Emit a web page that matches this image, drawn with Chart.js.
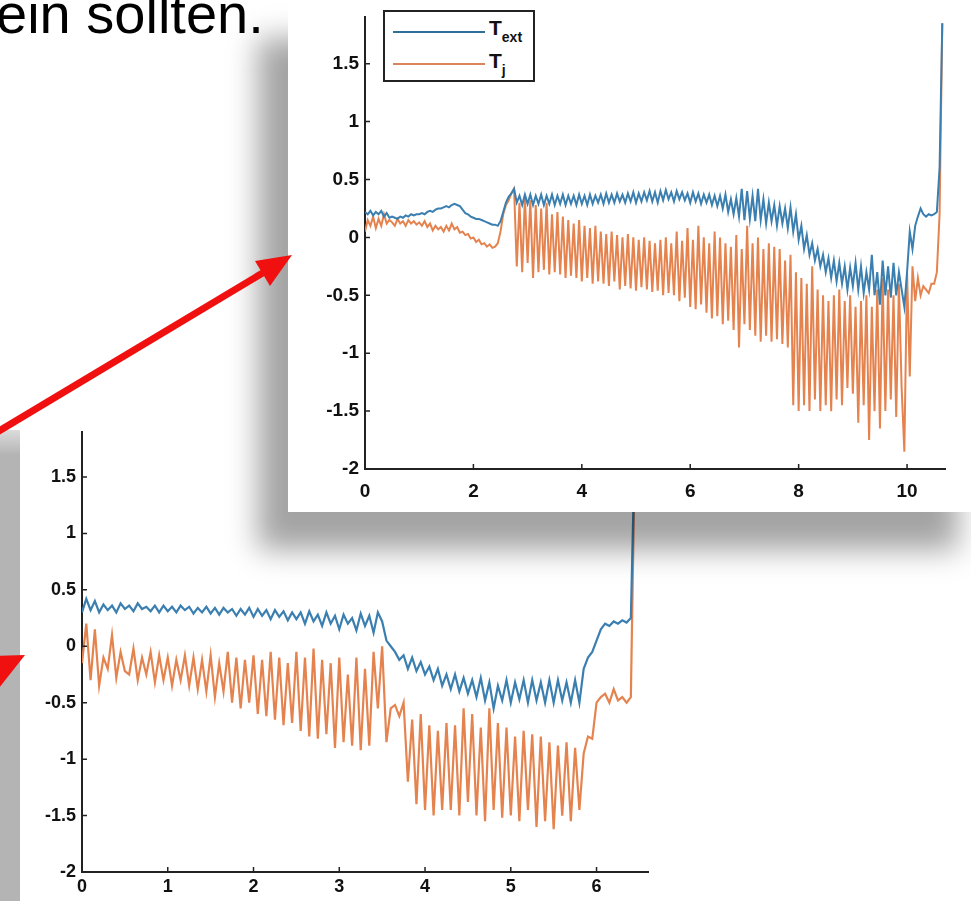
<!DOCTYPE html>
<html>
<head>
<meta charset="utf-8">
<script src="https://cdn.jsdelivr.net/npm/chart.js@4"></script>
<style>
  html, body { margin:0; padding:0; width:971px; height:901px; overflow:hidden; background:#ffffff; font-family:"Liberation Sans", Arial, sans-serif; }
  #leftStrip { position:absolute; left:0; top:430px; width:20px; height:471px; background:linear-gradient(#dcdcdc 0px, #b4b4b4 25px, #b4b4b4 100%); z-index:1; }
  #botPanel { position:absolute; left:20px; top:415px; width:671px; height:486px; background:#fff; z-index:2; }
  #topPanel { position:absolute; left:288px; top:0; width:700px; height:512px; background:#fff; box-shadow:-30px 38px 28px 0 rgba(0,0,0,0.36); z-index:3; }
  #c1 { position:absolute; left:2px; top:0; }
  #c2 { position:absolute; left:0; top:0; }
  #legend { position:absolute; left:95px; top:10px; width:148px; height:68px; border:2px solid #222; background:#fff; font-weight:bold; color:#111; }
  .lg { position:absolute; left:8px; width:92px; height:0; border-top:2px solid; }
  .lt { position:absolute; left:104px; font-size:21px; line-height:21px; }
  .lt sub { font-size:14px; vertical-align:-7px; }
  #overlay { position:absolute; left:0; top:0; z-index:5; }
</style>
</head>
<body>
<div id="leftStrip"></div>
<div id="botPanel"><canvas id="c2" width="671" height="486"></canvas></div>
<div id="topPanel">
  <canvas id="c1" width="681" height="512"></canvas>
  <div id="legend">
    <div class="lg" style="top:19px;border-color:#2f6f9c"></div><div class="lt" style="top:5px">T<sub>ext</sub></div>
    <div class="lg" style="top:51px;border-color:#d9845a"></div><div class="lt" style="top:38px">T<sub>j</sub></div>
  </div>
</div>
<svg id="overlay" width="971" height="901">
  <text x="-4" y="33" font-family="Liberation Sans, Arial, sans-serif" font-size="56" fill="#000">ein sollten.</text>
  <line x1="-6" y1="434" x2="266" y2="271" stroke="#f01010" stroke-width="7"/>
  <polygon points="292,255 255,261 270,286" fill="#f01010"/>
  <polygon points="25,655 -14,656 -1,688" fill="#f01010"/>
</svg>
<script>
// ---------- Top chart (0 .. 10.65, step 0.05) ----------
const topStep = 0.05;
const topXTicks = [0, 2, 4, 6, 8, 10];
const topYTicks = [-2, -1.5, -1, -0.5, 0, 0.5, 1, 1.5];
const topText = [
  0.22,0.2,0.23,0.19,0.22,0.2,0.23,0.18,0.21,0.17,
  0.18,0.17,0.16,0.18,0.17,0.19,0.18,0.2,0.19,0.2,
  0.2,0.21,0.2,0.22,0.23,0.22,0.24,0.25,0.25,0.26,
  0.27,0.26,0.28,0.29,0.28,0.27,0.24,0.21,0.2,0.18,
  0.17,0.16,0.16,0.15,0.14,0.13,0.12,0.11,0.11,0.1,
  0.14,0.22,0.3,0.35,0.38,0.42,0.3,0.36,0.28,0.37,
  0.29,0.37,0.28,0.36,0.29,0.37,0.28,0.36,0.29,0.37,
  0.28,0.36,0.29,0.37,0.28,0.36,0.29,0.36,0.28,0.37,
  0.29,0.36,0.28,0.37,0.29,0.36,0.3,0.37,0.29,0.38,
  0.3,0.37,0.3,0.38,0.31,0.37,0.3,0.38,0.31,0.39,
  0.3,0.38,0.31,0.39,0.32,0.4,0.31,0.39,0.3,0.4,
  0.32,0.41,0.33,0.39,0.31,0.4,0.33,0.39,0.32,0.38,
  0.3,0.39,0.31,0.38,0.29,0.37,0.3,0.37,0.28,0.36,
  0.27,0.36,0.25,0.37,0.22,0.33,0.2,0.34,0.18,0.42,
  0.15,0.4,0.16,0.36,0.14,0.42,0.15,0.33,0.12,0.3,
  0.14,0.28,0.1,0.27,0.12,0.25,0.08,0.26,0.05,0.2,
  -0.02,0.1,-0.1,0.02,-0.15,-0.05,-0.2,-0.1,-0.25,-0.15,
  -0.3,-0.18,-0.35,-0.2,-0.38,-0.22,-0.4,-0.25,-0.45,-0.26,
  -0.42,-0.22,-0.45,-0.25,-0.48,-0.3,-0.45,-0.15,-0.5,-0.3,
  -0.58,-0.2,-0.5,-0.25,-0.52,-0.22,-0.5,-0.3,-0.45,-0.6,
  -0.3,0.05,-0.1,0.1,0.18,0.25,0.2,0.18,0.2,0.19,
  0.2,0.22,0.6,1.85
];
const topTj = [
  0.05,0.15,0.1,0.18,0.08,0.16,0.1,0.2,0.12,0.15,
  0.13,0.1,0.16,0.12,0.14,0.1,0.15,0.12,0.14,0.11,
  0.13,0.1,0.14,0.09,0.12,0.06,0.1,0.07,0.09,0.05,
  0.1,0.06,0.12,0.07,0.09,0.04,0.05,0.02,0.03,-0.01,
  0.0,-0.04,-0.02,-0.06,-0.05,-0.08,-0.06,-0.09,-0.08,-0.05,
  0.05,0.2,0.28,0.32,0.38,0.42,-0.25,0.3,-0.3,0.35,
  -0.22,0.32,-0.35,0.28,-0.3,0.25,-0.28,0.3,-0.32,0.2,
  -0.3,0.22,-0.32,0.18,-0.35,0.15,-0.33,0.12,-0.35,0.15,
  -0.38,0.1,-0.35,0.08,-0.4,0.1,-0.38,0.05,-0.4,0.03,
  -0.42,0.05,-0.38,0.02,-0.45,0.0,-0.42,0.03,-0.44,0.0,
  -0.46,-0.02,-0.43,0.0,-0.45,-0.03,-0.47,-0.05,-0.46,-0.02,
  -0.5,0.0,-0.48,-0.05,-0.5,0.05,-0.55,-0.03,-0.52,0.08,
  -0.6,-0.02,-0.62,0.1,-0.58,0.0,-0.65,-0.05,-0.7,0.05,
  -0.68,0.0,-0.75,-0.05,-0.72,-0.08,-0.8,0.02,-0.95,-0.1,
  -0.75,0.1,-0.8,-0.05,-0.85,0.0,-0.9,-0.1,-0.85,-0.05,
  -0.9,-0.08,-0.88,-0.1,-0.92,-0.2,-0.95,-0.15,-1.45,-0.3,
  -1.5,-0.35,-1.45,-0.4,-1.5,-0.25,-1.4,-0.45,-1.5,-0.5,
  -1.45,-0.55,-1.5,-0.5,-1.4,-0.45,-1.45,-0.55,-1.3,-0.5,
  -1.35,-0.6,-1.6,-0.55,-1.45,-0.5,-1.75,-0.6,-1.5,-0.45,
  -1.65,-0.35,-1.5,-0.45,-1.4,-0.5,-1.55,-0.4,-1.3,-1.85,
  -0.3,-1.2,-0.25,-0.55,-0.35,-0.5,-0.42,-0.45,-0.48,-0.4,
  -0.4,-0.3,0.2,1.85
];

// ---------- Bottom chart (0 .. 6.45, step 0.05) ----------
const botStep = 0.05;
const botXTicks = [0, 1, 2, 3, 4, 5, 6];
const botYTicks = [-2, -1.5, -1, -0.5, 0, 0.5, 1, 1.5];
const botText = [
  0.3,0.42,0.32,0.4,0.3,0.37,0.32,0.36,0.3,0.38,
  0.33,0.36,0.31,0.38,0.33,0.35,0.31,0.36,0.3,0.36,
  0.31,0.35,0.3,0.36,0.32,0.35,0.29,0.34,0.3,0.35,
  0.29,0.34,0.28,0.34,0.3,0.33,0.27,0.33,0.28,0.34,
  0.26,0.33,0.27,0.32,0.24,0.32,0.26,0.31,0.23,0.3,
  0.24,0.3,0.2,0.31,0.22,0.28,0.18,0.3,0.2,0.27,
  0.15,0.28,0.2,0.25,0.14,0.29,0.18,0.27,0.12,0.3,
  0.22,0.05,0.0,-0.05,-0.12,-0.08,-0.2,-0.1,-0.22,-0.14,
  -0.25,-0.18,-0.3,-0.2,-0.35,-0.25,-0.38,-0.25,-0.4,-0.28,
  -0.42,-0.3,-0.45,-0.28,-0.48,-0.32,-0.55,-0.35,-0.48,-0.3,
  -0.5,-0.32,-0.47,-0.3,-0.5,-0.3,-0.48,-0.32,-0.5,-0.3,
  -0.5,-0.3,-0.48,-0.32,-0.5,-0.3,-0.5,-0.2,-0.1,-0.05,
  0.05,0.15,0.2,0.18,0.22,0.2,0.23,0.21,0.25,1.9
];
const botTj = [
  -0.15,0.2,-0.3,0.15,-0.35,-0.1,-0.2,0.1,-0.28,-0.05,
  -0.22,-0.25,-0.02,-0.3,-0.1,-0.25,-0.05,-0.32,-0.08,-0.3,
  -0.1,-0.35,-0.12,-0.3,-0.08,-0.35,-0.1,-0.38,-0.12,-0.4,
  -0.08,-0.45,-0.15,-0.4,-0.05,-0.5,-0.1,-0.55,-0.12,-0.5,
  -0.08,-0.6,-0.12,-0.62,-0.05,-0.65,-0.1,-0.7,-0.15,-0.68,
  -0.05,-0.75,-0.1,-0.8,-0.02,-0.82,-0.12,-0.78,-0.15,-0.9,
  -0.1,-0.85,-0.25,-0.88,-0.1,-0.92,-0.2,-0.88,-0.05,-0.55,
  0.0,-0.85,-0.55,-0.52,-0.62,-0.5,-1.2,-0.65,-1.4,-0.6,
  -1.45,-0.7,-1.5,-0.75,-1.45,-0.68,-1.45,-0.7,-1.5,-0.55,
  -1.38,-0.6,-1.5,-0.72,-1.55,-0.55,-1.45,-0.68,-1.52,-0.72,
  -1.5,-0.8,-1.55,-0.75,-1.45,-0.78,-1.6,-0.8,-1.55,-0.85,
  -1.62,-0.88,-1.5,-0.85,-1.55,-0.9,-1.45,-0.95,-0.8,-0.82,
  -0.5,-0.45,-0.42,-0.5,-0.38,-0.48,-0.45,-0.5,-0.45,1.9
];

const BLUE = '#3a7fb0';
const ORANGE = '#e5834f';

const inTicks = {
  id: 'inTicks',
  afterDraw(chart) {
    const ctx = chart.ctx, xs = chart.scales.x, ys = chart.scales.y;
    const a = chart.chartArea;
    ctx.save();
    ctx.strokeStyle = '#222';
    ctx.lineWidth = 1.5;
    ctx.beginPath();
    xs.ticks.forEach(t => { const p = xs.getPixelForValue(t.value); ctx.moveTo(p, a.bottom); ctx.lineTo(p, a.bottom - 5); });
    ys.ticks.forEach(t => { const p = ys.getPixelForValue(t.value); ctx.moveTo(a.left, p); ctx.lineTo(a.left + 5, p); });
    ctx.stroke();
    ctx.restore();
  }
};

function pts(step, arr) { return arr.map((v, i) => ({ x: +(i * step).toFixed(2), y: v })); }

function makeChart(id, o) {
  const font = { family: 'Liberation Sans, Arial, sans-serif', size: o.fs, weight: 'bold' };
  return new Chart(document.getElementById(id), {
    type: 'line',
    data: { datasets: [
      { label: 'T_ext', data: pts(o.step, o.text), borderColor: BLUE, borderWidth: o.lw, pointRadius: 0, tension: 0 },
      { label: 'T_j', data: pts(o.step, o.tj), borderColor: ORANGE, borderWidth: o.lw, pointRadius: 0, tension: 0 }
    ]},
    options: {
      responsive: false, animation: false, devicePixelRatio: 1,
      layout: { padding: o.pad },
      plugins: { legend: { display: false }, tooltip: { enabled: false } },
      scales: {
        x: { type: 'linear', min: 0, max: o.xmax,
             afterBuildTicks: s => { s.ticks = o.xt.map(v => ({ value: v })); },
             afterFit: s => { s.height = o.xh; },
             grid: { display: true, drawOnChartArea: false, drawTicks: false },
             border: { display: true, color: '#222', width: 2 },
             ticks: { font, color: '#111', padding: o.xpad, maxRotation: 0, autoSkip: false, callback: v => String(v) } },
        y: { type: 'linear', min: -2, max: 1.9,
             afterBuildTicks: s => { s.ticks = o.yt.map(v => ({ value: v })); },
             afterFit: s => { s.width = o.yw; },
             grid: { display: true, drawOnChartArea: false, drawTicks: false },
             border: { display: true, color: '#222', width: 2 },
             ticks: { font, color: '#111', padding: 6, autoSkip: false, callback: v => String(v) } }
      }
    },
    plugins: [inTicks]
  });
}

makeChart('c1', { step: topStep, text: topText, tj: topTj, xt: topXTicks, yt: topYTicks, xmax: 10.7,
  pad: { top: 9, right: 26, left: 0, bottom: 0 }, xh: 43, yw: 75, fs: 19, lw: 2, xpad: 11 });
makeChart('c2', { step: botStep, text: botText, tj: botTj, xt: botXTicks, yt: botYTicks, xmax: 6.6,
  pad: { top: 7, right: 43, left: 0, bottom: 0 }, xh: 29, yw: 62, fs: 18, lw: 2.2, xpad: 4 });
</script>
</body>
</html>
